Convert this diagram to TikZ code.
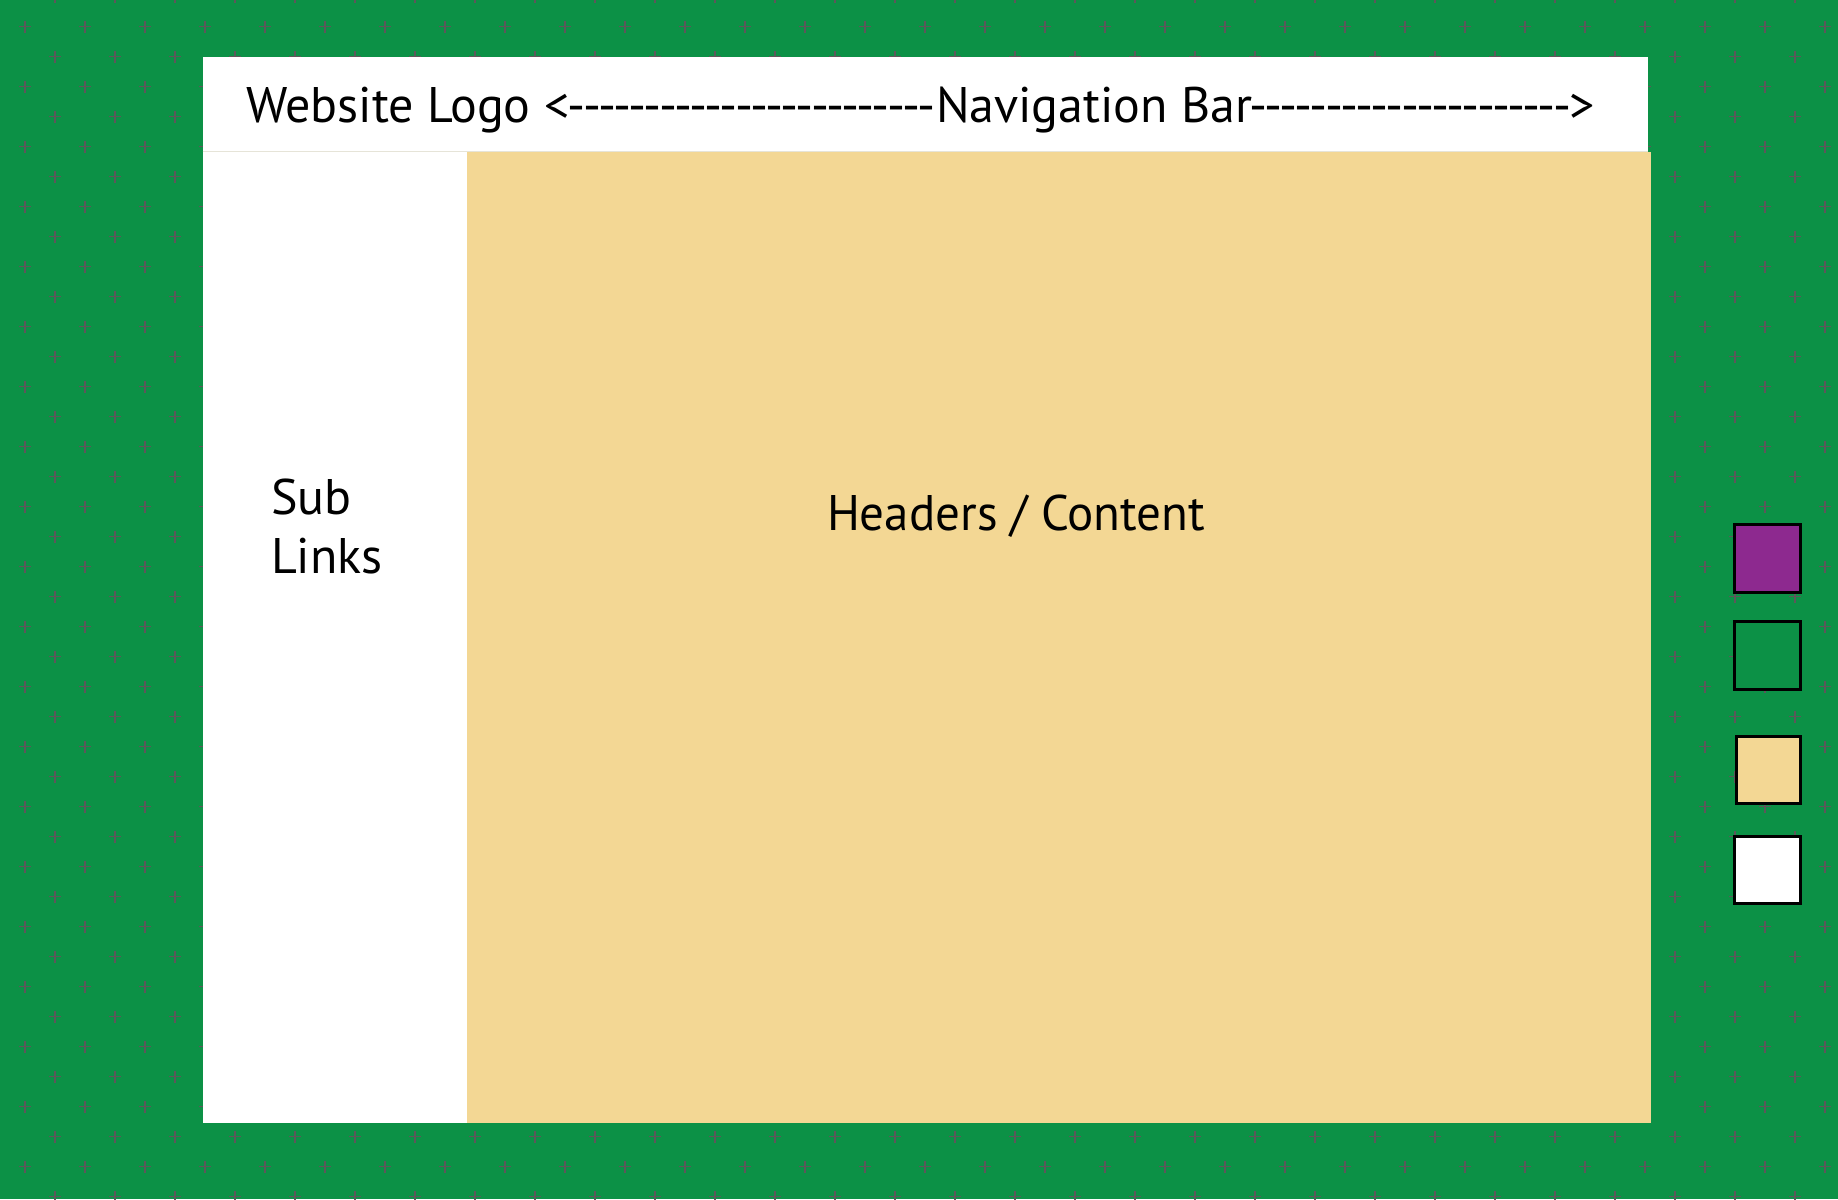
\documentclass[tikz,border=0pt]{standalone}
\usepackage{fontspec}
\newfontfamily\webfont{PT Sans}
\definecolor{bggreen}{RGB}{12,145,70}
\definecolor{tan}{RGB}{243,215,148}
\definecolor{swpurple}{RGB}{141,41,143}
\definecolor{plusgray}{RGB}{92,88,90}
\definecolor{sepline}{RGB}{230,228,216}
\def\hyp{\makebox[15.2pt]{-}}
\def\hfour{\hyp\hyp\hyp\hyp}
\tikzset{
  plusmark/.style={draw=plusgray, line width=1.2pt},
  swatch/.style={draw=black, line width=3pt, inner sep=0pt, anchor=north west},
  label/.style={inner sep=0pt, outer sep=0pt, anchor=base west, font=\webfont\fontsize{50}{59}\selectfont, text=black},
}
\begin{document}
\begin{tikzpicture}[x=1pt,y=-1pt]
\useasboundingbox (0,0) rectangle (1838,1199);
\fill[bggreen] (0,0) rectangle (1838,1199);
\begin{scope}
\clip (0,0) rectangle (1838,1199);
\foreach \i in {0,...,30}{
  \foreach \j in {0,...,20}{
    \pgfmathsetmacro\xa{25+60*\i}
    \pgfmathsetmacro\ya{26.7+60*\j}
    \pgfmathsetmacro\xb{55+60*\i}
    \pgfmathsetmacro\yb{-3.3+60*\j}
    \draw[plusmark] (\xa-6,\ya) -- (\xa+6,\ya) (\xa,\ya-6) -- (\xa,\ya+6)
                    (\xb-6,\yb) -- (\xb+6,\yb) (\xb,\yb-6) -- (\xb,\yb+6);
  }
}
\end{scope}
% main frame
\fill[white] (202.5,57) rectangle (1648,1123.3);
\draw[sepline, line width=1pt] (202.5,151) -- (1648,151);
\fill[tan] (466.7,151.5) rectangle (1650.7,1123.3);
% texts
\node[label] (nav) at (246,122) {Website Logo <\hfour\hfour\hfour\hfour\hfour\hfour\kern2pt Navigation Bar\kern-2pt\hfour\hfour\hfour\hfour\hfour\hyp>};
\node[label, align=left, anchor=north west] (sub) at (271,479) {Sub\\Links};
\node[label] (content) at (827,530) {\scalebox{0.98}[1]{Headers / Content}};
% swatches
\node[swatch, fill=swpurple, minimum width=65.3pt, minimum height=67.6pt] (sw1) at (1733.2,523.2) {};
\node[swatch, fill=bggreen, minimum width=65.3pt, minimum height=68pt] (sw2) at (1733.2,619.5) {};
\node[swatch, fill=tan, minimum width=64pt, minimum height=67pt] (sw3) at (1734.5,734.5) {};
\node[swatch, fill=white, minimum width=65.3pt, minimum height=67pt] (sw4) at (1733.2,834.5) {};
\end{tikzpicture}
\end{document}
